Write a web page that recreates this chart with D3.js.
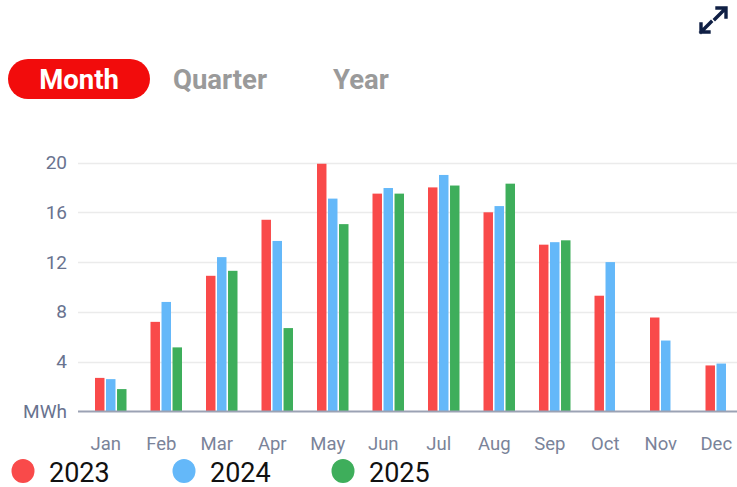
<!DOCTYPE html>
<html>
<head>
<meta charset="utf-8">
<script src="https://cdn.jsdelivr.net/npm/d3@7"></script>
<style>
  html, body { margin: 0; padding: 0; background: #fff; }
  svg { display: block; font-family: Roboto, "Liberation Sans", sans-serif; }
</style>
</head>
<body>
<svg id="chart" width="737" height="487"></svg>
<script>
// chart values
var months = ["Jan", "Feb", "Mar", "Apr", "May", "Jun", "Jul", "Aug", "Sep", "Oct", "Nov", "Dec"];
var series = ["2023", "2024", "2025"];
var colors = ["#f94a4a", "#64b8f9", "#3eae5b"];
var values2023 = [2.7, 7.2, 10.9, 15.4, 19.9, 17.5, 18.0, 16.0, 13.4, 9.3, 7.55, 3.7];
var values2024 = [2.6, 8.8, 12.4, 13.7, 17.1, 17.95, 19.0, 16.5, 13.6, 12.0, 5.7, 3.85];
var values2025 = [1.8, 5.15, 11.3, 6.7, 15.05, 17.5, 18.15, 18.3, 13.75, null, null, null];
var yTicks = [4, 8, 12, 16, 20];
var tabs = ["Month", "Quarter", "Year"];

var draw = {

    index: function () {
        var svg = d3.select("#chart");
        draw.header(svg);
        draw.bars(svg);
        draw.legend(svg);
    },

    header: function (svg) {
        // tab pill
        svg.append("rect")
            .attr("x", 8).attr("y", 59)
            .attr("width", 142).attr("height", 40)
            .attr("rx", 20)
            .attr("fill", "#f20c0c");

        var tabX = [79, 220, 361];
        svg.selectAll("text.tab")
            .data(tabs)
            .enter().append("text")
            .attr("class", "tab")
            .attr("x", function (d, i) { return tabX[i]; })
            .attr("y", 89)
            .attr("text-anchor", "middle")
            .attr("font-size", 27.5)
            .attr("font-weight", "bold")
            .attr("fill", function (d, i) { return i === 0 ? "#fff" : "#9a9a9a"; })
            .text(function (d) { return d; });

        // expand icon
        var icon = svg.append("g")
            .attr("stroke", "#0f1f44")
            .attr("stroke-width", 3.4)
            .attr("fill", "none")
            .attr("stroke-linecap", "square");
        icon.append("path").attr("d", "M715,19 L725,9 M717,8 L726,8 L726,17");
        icon.append("path").attr("d", "M711,22 L701,32 M701,24 L701,32 L709,32");
    },

    bars: function (svg) {
        var x = d3.scaleBand()
            .domain(months)
            .range([78, 744]);

        var y = d3.scaleLinear()
            .domain([0, 20])
            .range([411.5, 162.5]);

        // three bars sit right of the category centre
        var inner = d3.scaleBand()
            .domain(series)
            .range([-10.75, 20.75])
            .paddingInner(0.14);

        // grid
        svg.append("g")
            .attr("class", "grid")
            .selectAll("line")
            .data(yTicks)
            .enter().append("line")
            .attr("x1", 78).attr("x2", 737)
            .attr("y1", function (d) { return Math.round(y(d)) + 0.5; })
            .attr("y2", function (d) { return Math.round(y(d)) + 0.5; })
            .attr("stroke", "#ebebeb")
            .attr("stroke-width", 1.5);

        // y axis labels
        var yAxis = svg.append("g")
            .attr("class", "y_axis")
            .attr("transform", "translate(67,0)")
            .call(d3.axisLeft(y).tickValues(yTicks).tickSize(0).tickPadding(0));
        yAxis.select(".domain").remove();
        yAxis.selectAll("text")
            .attr("font-size", 19)
            .attr("font-family", "Roboto, sans-serif")
            .attr("fill", "#69738f");

        svg.append("text")
            .attr("x", 67).attr("y", 418)
            .attr("text-anchor", "end")
            .attr("font-size", 19)
            .attr("fill", "#69738f")
            .text("MWh");

        var data = [];
        var all = [values2023, values2024, values2025];
        months.forEach(function (m, i) {
            series.forEach(function (s, j) {
                if (all[j][i] !== null) {
                    data.push({ month: m, series: s, value: all[j][i], color: colors[j] });
                }
            });
        });

        svg.append("g")
            .attr("class", "bars")
            .selectAll("rect")
            .data(data)
            .enter().append("rect")
            .attr("x", function (d) { return x(d.month) + x.bandwidth() / 2 + inner(d.series); })
            .attr("width", inner.bandwidth())
            .attr("y", function (d) { return y(d.value); })
            .attr("height", function (d) { return y(0) - y(d.value); })
            .attr("fill", function (d) { return d.color; });

        // baseline
        svg.append("line")
            .attr("x1", 78).attr("x2", 737)
            .attr("y1", 411.5).attr("y2", 411.5)
            .attr("stroke", "#9ba2b4")
            .attr("stroke-width", 2);

        // x axis labels
        var xAxis = svg.append("g")
            .attr("class", "x_axis")
            .attr("transform", "translate(0,437)")
            .call(d3.axisBottom(x).tickSize(0).tickPadding(0));
        xAxis.select(".domain").remove();
        xAxis.selectAll("text")
            .attr("font-size", 18.5)
            .attr("font-family", "Roboto, sans-serif")
            .attr("fill", "#7a8399");
    },

    legend: function (svg) {
        var legendX = [23, 184, 343];
        var item = svg.append("g")
            .attr("class", "legend")
            .selectAll("g")
            .data(series)
            .enter().append("g")
            .attr("transform", function (d, i) { return "translate(" + legendX[i] + ",471)"; });

        item.append("ellipse")
            .attr("rx", 11.5).attr("ry", 12)
            .attr("fill", function (d, i) { return colors[i]; });

        item.append("text")
            .attr("x", 26).attr("y", 10.5)
            .attr("font-size", 27)
            .attr("fill", "#111")
            .text(function (d) { return d; });
    }
};

draw.index();
</script>
</body>
</html>
